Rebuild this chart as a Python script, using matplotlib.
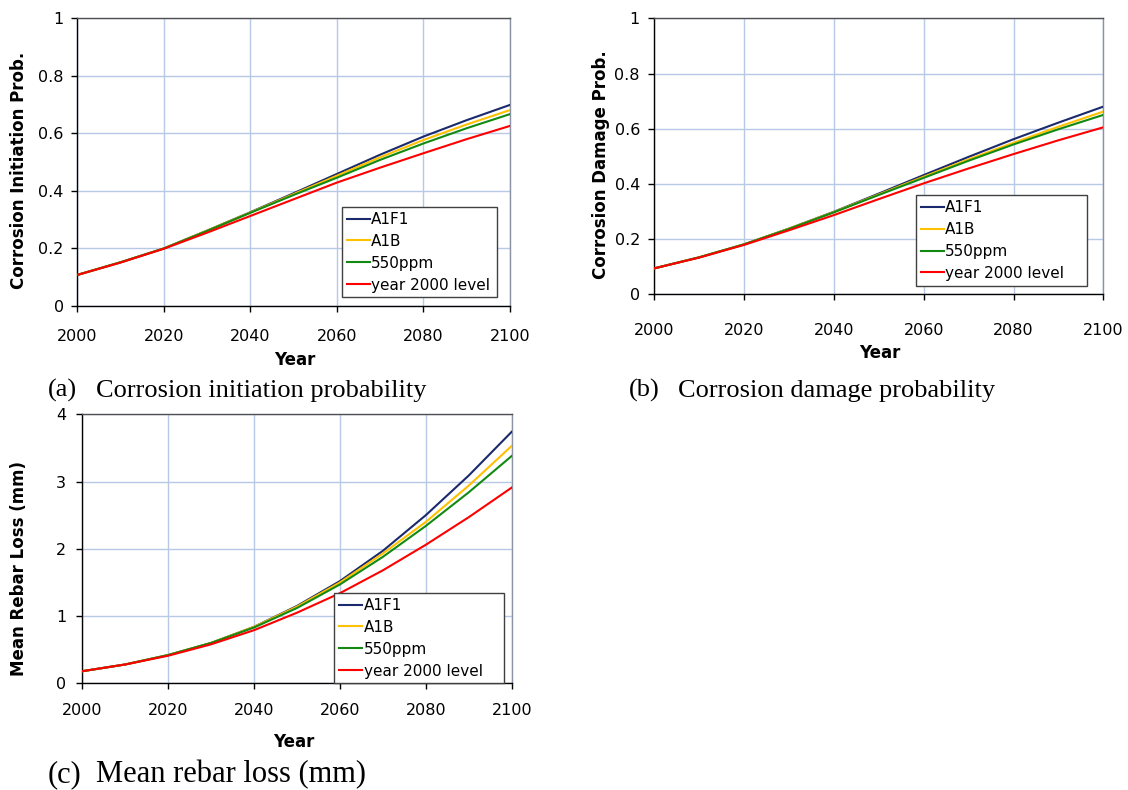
import matplotlib
matplotlib.use("Agg")
import matplotlib.pyplot as plt
from matplotlib.ticker import FuncFormatter

# ---------------- data ----------------
years = [2000, 2010, 2020, 2030, 2040, 2050, 2060, 2070, 2080, 2090, 2100]
series_names = ["A1F1", "A1B", "550ppm", "year 2000 level"]

init_a1f1 = [0.108, 0.152, 0.200, 0.262, 0.326, 0.392, 0.459, 0.526, 0.589, 0.646, 0.699]
init_a1b = [0.108, 0.152, 0.200, 0.262, 0.325, 0.389, 0.453, 0.517, 0.577, 0.631, 0.681]
init_550 = [0.108, 0.152, 0.200, 0.261, 0.324, 0.386, 0.446, 0.508, 0.565, 0.618, 0.667]
init_2000 = [0.108, 0.151, 0.199, 0.255, 0.313, 0.371, 0.429, 0.481, 0.531, 0.580, 0.626]

dmg_a1f1 = [0.094, 0.134, 0.181, 0.238, 0.299, 0.365, 0.432, 0.498, 0.562, 0.622, 0.680]
dmg_a1b = [0.094, 0.134, 0.181, 0.238, 0.298, 0.362, 0.426, 0.489, 0.549, 0.607, 0.662]
dmg_550 = [0.094, 0.134, 0.181, 0.237, 0.297, 0.360, 0.422, 0.484, 0.543, 0.598, 0.650]
dmg_2000 = [0.094, 0.133, 0.179, 0.232, 0.287, 0.345, 0.402, 0.456, 0.508, 0.558, 0.605]

loss_a1f1 = [0.18, 0.28, 0.42, 0.60, 0.84, 1.15, 1.52, 1.97, 2.50, 3.09, 3.74]
loss_a1b = [0.18, 0.28, 0.42, 0.60, 0.84, 1.14, 1.50, 1.93, 2.40, 2.94, 3.53]
loss_550 = [0.18, 0.28, 0.42, 0.60, 0.83, 1.12, 1.47, 1.88, 2.34, 2.84, 3.38]
loss_2000 = [0.18, 0.28, 0.41, 0.58, 0.79, 1.05, 1.34, 1.68, 2.06, 2.47, 2.91]

x_ticks = [2000, 2020, 2040, 2060, 2080, 2100]
prob_ticks = [0, 0.2, 0.4, 0.6, 0.8, 1]
loss_ticks = [0, 1, 2, 3, 4]

ylabels = ["Corrosion Initiation Prob.", "Corrosion Damage Prob.", "Mean Rebar Loss (mm)"]
xlabel = "Year"
captions = [("(a)", "Corrosion initiation probability"),
            ("(b)", "Corrosion damage probability"),
            ("(c)", "Mean rebar loss (mm)")]

# ---------------- style ----------------
colors = ["#1a2a6c", "#ffc000", "#128a12", "#ff0000"]
grid_color = "#b7c9e6"
W, H = 1128, 790

plt.rcParams["font.family"] = ["DejaVu Sans"]
fig = plt.figure(figsize=(W / 100, H / 100), dpi=100)


def add_ax(l, t, r, b):
    return fig.add_axes([l / W, 1 - b / H, (r - l) / W, (b - t) / H])


panels = [
    dict(box=(77.3, 18.3, 510.0, 306.0), data=[init_a1f1, init_a1b, init_550, init_2000],
         yt=prob_ticks, ylim=(0, 1), xpad=12.5, ypad=5.8,
         leg=(342, 207, 496.5, 297), ylab=(19, 170), xlab=(295, 365),
         cap=(48, 96, 397), capsize=19),
    dict(box=(654.3, 18.3, 1103.3, 294.3), data=[dmg_a1f1, dmg_a1b, dmg_550, dmg_2000],
         yt=prob_ticks, ylim=(0, 1), xpad=16.4, ypad=6.3,
         leg=(916, 195.3, 1086.5, 284), ylab=(600.7, 165), xlab=(880, 358),
         cap=(628.7, 677.6, 397), capsize=19),
    dict(box=(82.3, 414.3, 511.7, 683.3), data=[loss_a1f1, loss_a1b, loss_550, loss_2000],
         yt=loss_ticks, ylim=(0, 4), xpad=10.2, ypad=7.7,
         leg=(334.4, 593, 504.3, 680), ylab=(19, 568), xlab=(293.5, 746.7),
         cap=(48, 96, 782), capsize=22),
]

fmt = FuncFormatter(lambda v, p: f"{v:g}")

for i, p in enumerate(panels):
    ax = add_ax(*p["box"])
    handles = []
    for name, vals, c in zip(series_names, p["data"], colors):
        h, = ax.plot(years, vals, color=c, lw=1.5, label=name, zorder=3)
        handles.append(h)
    ax.set_xlim(2000, 2100)
    ax.set_ylim(*p["ylim"])
    ax.set_xticks(x_ticks)
    ax.set_yticks(p["yt"])
    ax.yaxis.set_major_formatter(fmt)
    ax.set_axisbelow(True)
    ax.grid(True, color=grid_color, lw=1.0)
    ax.tick_params(axis="both", direction="out", length=4, width=1,
                   labelsize=11.5, colors="black")
    ax.tick_params(axis="x", pad=p["xpad"])
    ax.tick_params(axis="y", pad=p["ypad"])
    ax.spines["left"].set_color("black")
    ax.spines["bottom"].set_color("black")
    ax.spines["top"].set_color("#505050")
    ax.spines["right"].set_color("#8a93a3")
    for s in ax.spines.values():
        s.set_linewidth(1.0)

    lx0, lt, lx1, lb = p["leg"]
    leg = ax.legend(handles=handles, loc="upper left",
                    bbox_to_anchor=(lx0 / W, 1 - lb / H, (lx1 - lx0) / W, (lb - lt) / H),
                    bbox_transform=fig.transFigure, mode="expand", borderaxespad=0,
                    fontsize=11, handlelength=1.5, handletextpad=0.1,
                    labelspacing=0.45, borderpad=0.32, fancybox=False,
                    framealpha=1, edgecolor="#404040")
    leg.get_frame().set_linewidth(1.0)
    leg.set_zorder(5)

    yx, yy = p["ylab"]
    fig.text(yx / W, 1 - yy / H, ylabels[i], rotation=90, ha="center", va="center",
             fontsize=12, fontweight="bold")
    xx, xy = p["xlab"]
    fig.text(xx / W, 1 - xy / H, xlabel, ha="center", va="baseline",
             fontsize=12, fontweight="bold")
    cx0, cx1, cy = p["cap"]
    fig.text(cx0 / W, 1 - cy / H, captions[i][0], ha="left", va="baseline",
             fontsize=p["capsize"], family="Liberation Serif")
    fig.text(cx1 / W, 1 - cy / H, captions[i][1], ha="left", va="baseline",
             fontsize=p["capsize"], family="Liberation Serif")

fig.savefig("out.png", dpi=100)
